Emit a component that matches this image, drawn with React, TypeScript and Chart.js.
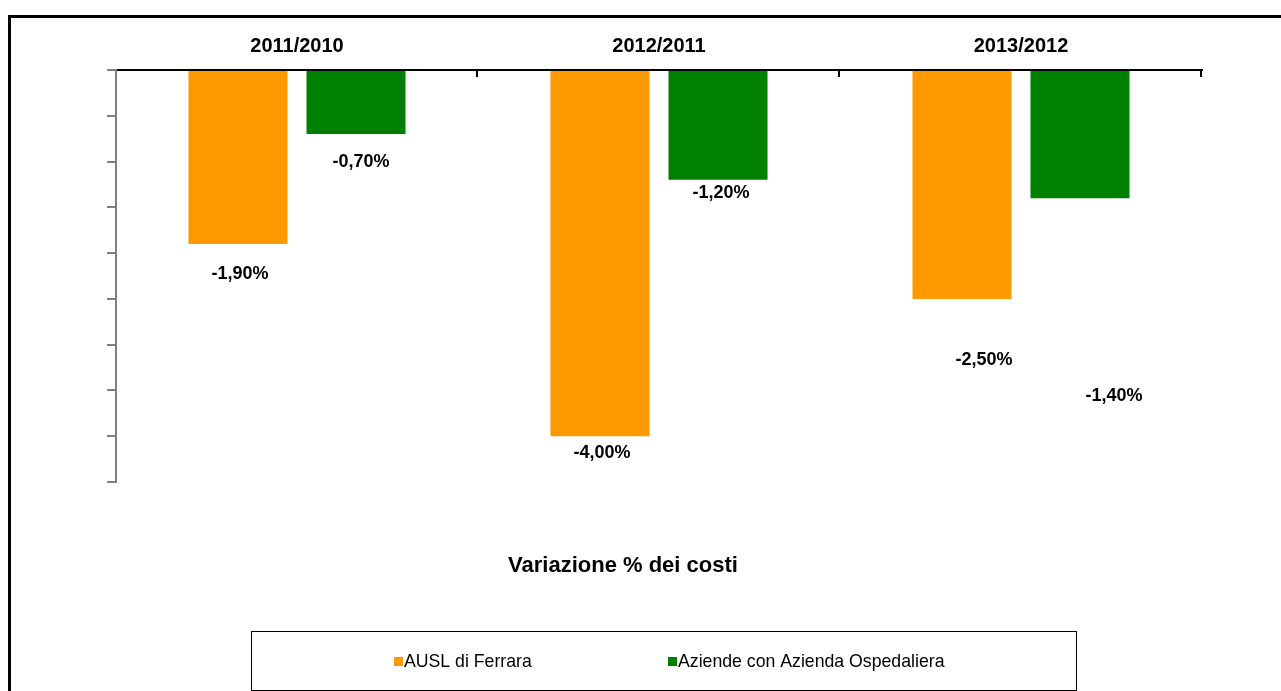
import React, { useEffect, useRef } from "react";
import { Chart, registerables } from "chart.js";

Chart.register(...registerables);

// ---- data ----
const categories = ["2011/2010", "2012/2011", "2013/2012"];
const seriesNames = ["AUSL di Ferrara", "Aziende con Azienda Ospedaliera"];
const seriesColors = ["#FF9900", "#008000"];
const auslValues = [-1.9, -4.0, -2.5];
const aziendeValues = [-0.7, -1.2, -1.4];
// where each value label sits (in axis units) and its small sideways shift
const auslLabelAt = [-2.23, -4.18, -3.17];
const aziendeLabelAt = [-1.0, -1.34, -3.56];
const auslLabelShift = [2, 2, 22];
const aziendeLabelShift = [5, 3, 34];
const axisTitle = "Variazione % dei costi";
const yMin = -4.5;
const yMax = 0;
const yStep = 0.5;

const FONT = "'Liberation Sans', Arial, sans-serif";

const fmt = (v: number) => v.toFixed(2).replace(".", ",") + "%";

const decorPlugin = {
  id: "decor",
  afterDraw(chart: any) {
    const ctx = chart.ctx as CanvasRenderingContext2D;
    const { chartArea } = chart;
    const xs = chart.scales.x;
    const ys = chart.scales.y;
    ctx.save();

    // outer frame (top + left)
    ctx.fillStyle = "#000";
    ctx.fillRect(8, 15, 1273, 3);
    ctx.fillRect(8, 15, 3, 676);

    // category boundary tick marks (pointing into plot area)
    const n = categories.length;
    const step = (chartArea.right - chartArea.left) / n;
    ctx.strokeStyle = "#000";
    ctx.lineWidth = 2;
    for (let i = 1; i <= n; i++) {
      const bx = Math.round(xs.left + i * step) - 1;
      ctx.beginPath();
      ctx.moveTo(bx, chartArea.top);
      ctx.lineTo(bx, chartArea.top + 7);
      ctx.stroke();
    }

    // data labels
    const labelAts = [auslLabelAt, aziendeLabelAt];
    const shifts = [auslLabelShift, aziendeLabelShift];
    ctx.font = `bold 18px ${FONT}`;
    ctx.textAlign = "center";
    ctx.textBaseline = "middle";
    ctx.fillStyle = "#000";
    chart.data.datasets.forEach((ds: any, di: number) => {
      const meta = chart.getDatasetMeta(di);
      meta.data.forEach((bar: any, i: number) => {
        const x = bar.x + shifts[di][i];
        const y = ys.getPixelForValue(labelAts[di][i]);
        ctx.fillText(fmt(ds.data[i]), x, y);
      });
    });

    // axis title
    ctx.font = `bold 22px ${FONT}`;
    ctx.fillText(axisTitle, 623, 566);

    // legend box
    ctx.lineWidth = 1;
    ctx.strokeStyle = "#000";
    ctx.strokeRect(251.5, 631.5, 825, 59);
    ctx.font = `17.7px ${FONT}`;
    ctx.textAlign = "left";
    const legendX = [394, 668];
    chart.data.datasets.forEach((ds: any, di: number) => {
      ctx.fillStyle = ds.backgroundColor;
      ctx.fillRect(legendX[di], 657, 9, 9);
      ctx.fillStyle = "#000";
      ctx.fillText(ds.label, legendX[di] + 10, 662);
    });

    ctx.restore();
  },
};

export default function App() {
  const ref = useRef<HTMLCanvasElement | null>(null);

  useEffect(() => {
    if (!ref.current) return;
    const chart = new Chart(ref.current, {
      type: "bar",
      data: {
        labels: categories,
        datasets: [
          {
            label: seriesNames[0],
            data: auslValues,
            backgroundColor: seriesColors[0],
            borderWidth: 0,
            categoryPercentage: 0.652,
            barPercentage: 0.839,
          },
          {
            label: seriesNames[1],
            data: aziendeValues,
            backgroundColor: seriesColors[1],
            borderWidth: 0,
            categoryPercentage: 0.652,
            barPercentage: 0.839,
          },
        ],
      },
      options: {
        responsive: false,
        animation: false,
        devicePixelRatio: 1,
        layout: { padding: { left: 107, right: 79, top: 30, bottom: 209 } },
        scales: {
          x: {
            position: "top",
            grid: { display: false },
            border: { display: true, color: "#000", width: 2 },
            ticks: {
              color: "#000",
              padding: 4,
              font: { family: FONT, size: 20, weight: "bold" },
            },
          },
          y: {
            min: yMin,
            max: yMax,
            ticks: { display: false, stepSize: yStep },
            grid: {
              drawOnChartArea: false,
              color: "#808080",
              lineWidth: 2,
              tickLength: 9,
            },
            border: { display: true, color: "#808080", width: 2 },
          },
        },
        plugins: {
          legend: { display: false },
          tooltip: { enabled: false },
        },
      },
      plugins: [decorPlugin],
    } as any);
    return () => chart.destroy();
  }, []);

  return (
    <div style={{ position: "absolute", left: 0, top: 0, width: 1281, height: 691, background: "#fff" }}>
      <canvas ref={ref} width={1281} height={691} style={{ display: "block" }} />
    </div>
  );
}
